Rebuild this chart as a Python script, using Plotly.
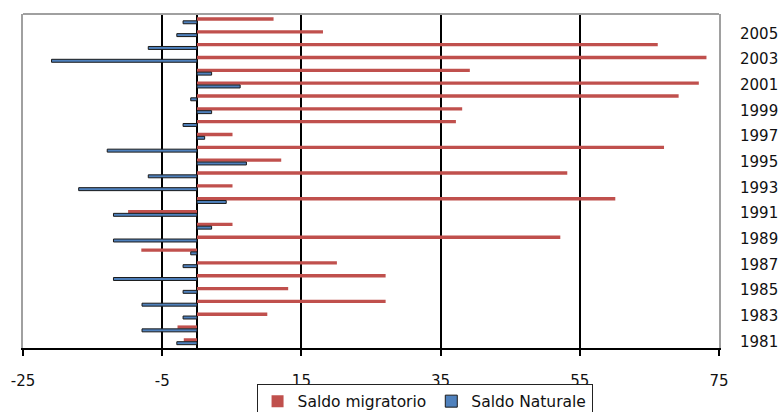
import plotly.graph_objects as go

years = list(range(1981, 2007))
saldo_migratorio = [-1.9, -2.8, 10.1, 27.1, 13.1, 27.1, 20.1, -8.0, 52.2, 5.1,
                    -9.9, 60.1, 5.1, 53.2, 12.1, 67.1, 5.1, 37.2, 38.1, 69.2,
                    72.1, 39.2, 73.2, 66.2, 18.1, 11.0]
saldo_naturale = [-2.9, -7.9, -2.0, -7.9, -2.0, -12.0, -2.0, -0.9, -12.0, 2.1,
                  -12.0, 4.2, -17.0, -7.0, 7.1, -12.9, 1.1, -2.0, 2.1, -0.9,
                  6.2, 2.1, -20.9, -7.0, -2.9, -2.0]
x_ticks = [-25, -5, 15, 35, 55, 75]
y_ticks = list(range(1981, 2006, 2))

fig = go.Figure()
fig.add_trace(go.Bar(
    y=years, x=saldo_migratorio, orientation="h", name="Saldo migratorio",
    marker=dict(color="#C0504D", line=dict(width=0)),
    width=0.26, offset=-0.01,
))
fig.add_trace(go.Bar(
    y=years, x=saldo_naturale, orientation="h", name="Saldo Naturale",
    marker=dict(color="#4F81BD", line=dict(color="#1a1a1a", width=1)),
    width=0.23, offset=-0.25,
))

fig.update_layout(
    template="none",
    width=779, height=412,
    margin=dict(l=23, r=60, t=14, b=64, autoexpand=False),
    barmode="overlay",
    plot_bgcolor="white", paper_bgcolor="white",
    font=dict(family="DejaVu Sans", size=14, color="#111111"),
    showlegend=True,
    legend=dict(
        orientation="h", xref="container", yref="container",
        x=0.545, xanchor="center", y=0.069, yanchor="top",
        bordercolor="#222222", borderwidth=1, font=dict(size=15.5),
        itemwidth=30, tracegroupgap=0, bgcolor="white",
    ),
    xaxis=dict(
        automargin=False,
        range=[-25, 75], tickvals=x_ticks, ticktext=[str(v) for v in x_ticks],
        showgrid=True, gridcolor="black", gridwidth=1.5,
        zeroline=True, zerolinecolor="black", zerolinewidth=1.5,
        showline=True, linecolor="black", linewidth=1.5,
        ticks="outside", ticklen=6, tickcolor="black", tickwidth=1.5,
        ticklabelstandoff=12, tickfont=dict(size=15),
    ),
    yaxis=dict(
        automargin=False,
        range=[1980.49, 2006.51], tickvals=y_ticks,
        ticktext=[str(v) for v in y_ticks],
        side="right", showgrid=False, zeroline=False,
        showline=True, linecolor="#A0A0A0", linewidth=2, mirror=True,
        ticks="", ticklabelstandoff=16, tickfont=dict(size=15),
    ),
    shapes=[dict(type="line", xref="paper", yref="paper", x0=0, x1=1, y0=1, y1=1,
                 line=dict(color="#A0A0A0", width=2))],
)

fig.write_html(
    "out.html",
    config={"displayModeBar": False, "responsive": False},
    post_script="document.body.style.margin='0';document.body.style.overflow='hidden';",
)
